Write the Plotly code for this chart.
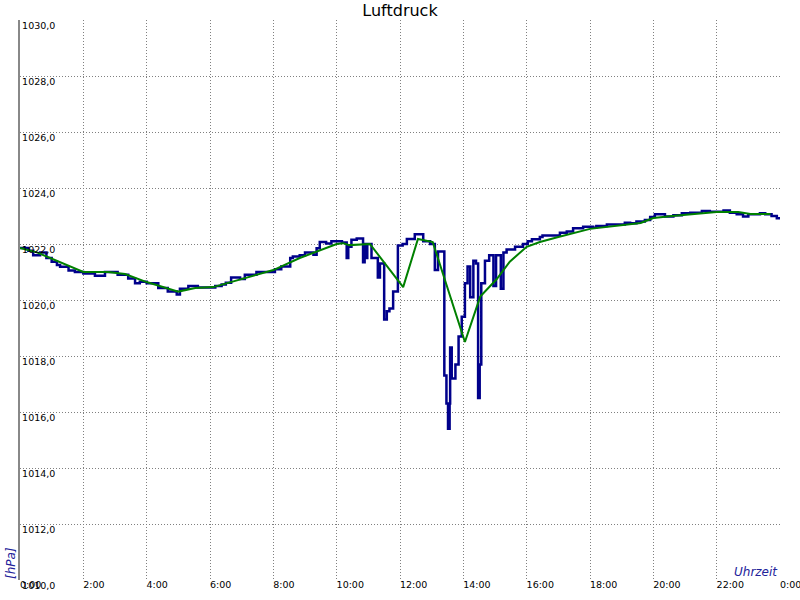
import plotly.graph_objects as go

# ---- data ----
blue_times = ["00:00","00:16","00:25","00:38","00:50","01:00","01:10","01:16","01:32","01:44",
              "02:00","02:22","02:41","03:05","03:25","03:38","03:47","04:00","04:22","04:40",
              "04:57","05:03","05:19","05:37","06:00","06:10","06:22","06:30","06:40","06:57",
              "07:06","07:28","08:03","08:15","08:32","08:37","08:50","09:00","09:16","09:22",
              "09:28","09:40","09:50","10:10","10:19","10:22","10:28","10:38","10:50","10:53",
              "10:56","10:58","11:06","11:18","11:22","11:30","11:35","11:40","11:47","11:56",
              "12:05","12:13","12:28","12:44","12:57","13:06","13:12","13:24","13:28","13:31",
              "13:34","13:35","13:38","13:45","13:51","13:57","14:03","14:08","14:13","14:19",
              "14:24","14:28","14:31","14:34","14:41","14:49","14:57","15:02","15:11","15:16",
              "15:22","15:38","15:53","16:02","16:10","16:25","16:30","17:03","17:16","17:28",
              "17:47","18:06","18:12","18:32","19:06","19:16","19:28","19:44","19:54","20:03",
              "20:22","20:38","20:54","21:10","21:32","21:47","22:13","22:25","22:38","22:50",
              "23:00","23:22","23:32","23:44","23:54","24:00"]
blue_values = [1021.86,1021.76,1021.6,1021.7,1021.5,1021.37,1021.25,1021.19,1021.05,1021.0,
               1020.95,1020.87,1021.0,1020.9,1020.77,1020.6,1020.65,1020.6,1020.43,1020.3,
               1020.2,1020.4,1020.5,1020.45,1020.45,1020.5,1020.55,1020.62,1020.8,1020.75,
               1020.9,1021.0,1021.1,1021.2,1021.5,1021.55,1021.6,1021.7,1021.62,1021.85,
               1022.07,1022.02,1022.1,1022.05,1021.5,1021.9,1022.15,1022.2,1021.35,1022.0,
               1021.5,1022.0,1021.5,1020.8,1021.3,1019.3,1019.6,1019.7,1020.3,1021.95,
               1022.0,1022.18,1022.35,1022.1,1022.0,1021.07,1021.73,1017.3,1016.3,1015.4,
               1016.3,1018.3,1017.2,1017.7,1018.7,1019.4,1020.6,1021.2,1020.1,1021.4,
               1021.3,1016.5,1017.7,1020.6,1021.4,1021.6,1020.5,1021.6,1020.4,1021.7,
               1021.8,1021.9,1022.0,1022.1,1022.17,1022.25,1022.3,1022.4,1022.45,1022.56,
               1022.62,1022.58,1022.64,1022.7,1022.76,1022.74,1022.8,1022.86,1022.96,1023.06,
               1022.98,1023.03,1023.1,1023.12,1023.18,1023.15,1023.2,1023.12,1023.06,1022.98,
               1023.06,1023.1,1023.06,1023.0,1022.92,1022.92]

green_times = ["00:00","00:32","02:00","02:47","03:19","04:00","05:00","05:32","06:06","08:00",
               "08:50","10:00","10:12","10:24","11:03","12:06","12:34","13:02","14:03","14:32",
               "15:03","15:28","16:00","16:25","17:00","18:00","19:36","20:00","20:36","22:00",
               "22:41","23:04","23:42"]
green_values = [1021.86,1021.7,1021.0,1021.0,1020.93,1020.64,1020.3,1020.43,1020.46,1021.07,
                1021.5,1022.0,1022.03,1021.96,1022.0,1020.46,1022.18,1022.07,1018.5,1020.12,
                1020.74,1021.37,1021.9,1022.07,1022.25,1022.54,1022.75,1022.93,1023.0,1023.14,
                1023.14,1023.07,1023.07]

x_tick_hours = [0, 2, 4, 6, 8, 10, 12, 14, 16, 18, 20, 22, 24]
x_tick_labels = ["0:00", "2:00", "4:00", "6:00", "8:00", "10:00", "12:00", "14:00",
                 "16:00", "18:00", "20:00", "22:00", "0:00"]

TITLE = "Luftdruck"
Y_TITLE = "[hPa]"
X_TITLE = "Uhrzeit"


def to_hours(t):
    h, m = t.split(":")
    return int(h) + int(m) / 60.0


def left_pad(label):
    # pad with invisible spaces of equal width so the centred label starts at the tick
    pad = "".join("\u2007" if c.isdigit() else "\u2008" for c in label)
    return pad + label


bx = [to_hours(t) for t in blue_times]
gx = [to_hours(t) for t in green_times]

FONT = "DejaVu Sans"
GRID = "#808080"
LABEL_BLUE = "#22229a"

fig = go.Figure()
fig.add_trace(go.Scatter(x=bx, y=blue_values, mode="lines", line=dict(color="#00008b", width=2.5, shape="hv"),
                         hoverinfo="skip"))
fig.add_trace(go.Scatter(x=gx, y=green_values, mode="lines", line=dict(color="#008000", width=2),
                         hoverinfo="skip"))

fig.update_layout(
    width=800, height=600,
    margin=dict(l=20, r=20, t=20, b=20, autoexpand=False),
    paper_bgcolor="white", plot_bgcolor="white",
    showlegend=False,
    separators=",.",
    font=dict(family=FONT, size=10, color="black"),
    title=dict(text=TITLE, x=0.5, xanchor="center", xref="paper",
               y=1 - 10.5 / 600, yref="container", yanchor="middle",
               font=dict(family=FONT, size=16, color="black")),
)

fig.update_xaxes(
    range=[0, 24], automargin=False,
    tickmode="array", tickvals=x_tick_hours, ticktext=[left_pad(t) for t in x_tick_labels],
    showgrid=True, gridcolor=GRID, griddash="1px,2px", gridwidth=1,
    showline=False, zeroline=False, ticks="",
    ticklabelstandoff=-3, ticklabeloverflow="allow",
    tickfont=dict(family=FONT, size=9.5, color="black"),
)

fig.update_yaxes(
    range=[1010, 1030], dtick=2, tick0=1010, tickformat=".1f", automargin=False,
    showgrid=True, gridcolor=GRID, griddash="1px,2px", gridwidth=1,
    showline=True, linecolor="#888888", linewidth=2, zeroline=False, ticks="",
    ticklabelposition="inside", ticklabelshift=6, ticklabelstandoff=1,
    ticklabeloverflow="allow",
    tickfont=dict(family=FONT, size=9.5, color="black"),
)

fig.add_annotation(text=Y_TITLE, xref="paper", yref="paper",
                   x=(11 - 20) / 760, y=(580 - 563) / 560, xanchor="center", yanchor="middle",
                   textangle=-90, showarrow=False,
                   font=dict(family=FONT, size=12, color=LABEL_BLUE, style="italic"))
fig.add_annotation(text=X_TITLE, xref="paper", yref="paper",
                   x=1.0, y=(580 - 572) / 560, xanchor="right", yanchor="middle",
                   showarrow=False,
                   font=dict(family=FONT, size=12, color=LABEL_BLUE, style="italic"))

fig.write_html("out.html", config={"displayModeBar": False},
               post_script="document.body.style.margin='0';")
